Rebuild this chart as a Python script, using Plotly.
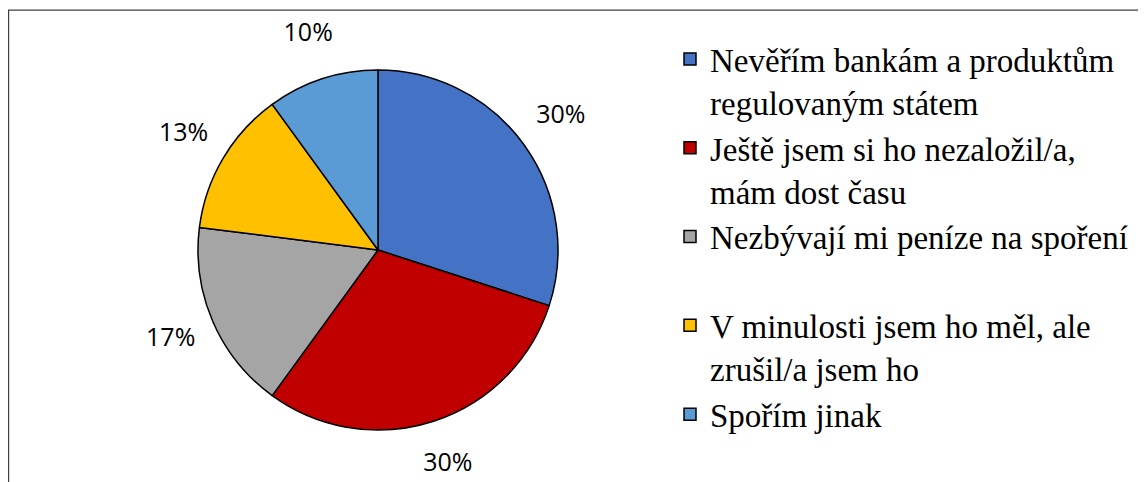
import plotly.graph_objects as go

categories = [
    "Nevěřím bankám a produktům<br>regulovaným státem",
    "Ještě jsem si ho nezaložil/a,<br>mám dost času",
    "Nezbývají mi peníze na spoření<br> ",
    "V minulosti jsem ho měl, ale<br>zrušil/a jsem ho",
    "Spořím jinak",
]
values = [30, 30, 17, 13, 10]

slice_colors = ["#4472C4", "#C00000", "#A5A5A5", "#FFC000", "#5B9BD5"]

# the page body has an 8px margin; work in figure coordinates
OFF = 8
W, H = 1146 - OFF, 482 - OFF
cx, cy, r = 378 - OFF, 250 - OFF, 180
R_LAB = 232  # radius of the (invisible) polar frame used for the % labels

SERIF = "Liberation Serif, Times New Roman, Tinos, DejaVu Serif, serif"
SANS = "Open Sans, Carlito, Calibri, Liberation Sans, sans-serif"

pie_dom = dict(x=[(cx - r) / W, (cx + r) / W], y=[1 - (cy + r) / H, 1 - (cy - r) / H])
pol_dom = dict(x=[(cx - R_LAB) / W, (cx + R_LAB) / W],
               y=[max(0.0, 1 - (cy + R_LAB) / H), 1 - (cy - R_LAB) / H])

# percentage labels placed outside each slice, at the slice's middle angle
total = sum(values)
mid_angles, pct_text, acc = [], [], 0.0
for v in values:
    mid_angles.append((acc + v / 2) / total * 360)
    pct_text.append(f"{round(v / total * 100)}%")
    acc += v
label_r = [1.255] * len(values)  # in units of the pie radius

fig = go.Figure()
fig.add_trace(go.Pie(
    labels=categories,
    values=values,
    sort=False,
    direction="clockwise",
    rotation=0,
    marker=dict(colors=slice_colors, line=dict(color="#000000", width=1.5)),
    textinfo="none",
    domain=pie_dom,
    automargin=False,
    hoverinfo="label+percent",
))
fig.add_trace(go.Scatterpolar(
    r=label_r, theta=mid_angles, mode="text", text=pct_text,
    textfont=dict(family=SANS, size=25, color="#000000"),
    cliponaxis=False, showlegend=False, hoverinfo="skip",
))

fig.update_layout(
    width=W, height=H,
    margin=dict(l=0, r=0, t=0, b=0),
    paper_bgcolor="#FFFFFF",
    plot_bgcolor="#FFFFFF",
    showlegend=True,
    polar=dict(
        domain=pol_dom, bgcolor="rgba(0,0,0,0)",
        radialaxis=dict(range=[0, R_LAB / r], visible=False, showgrid=False),
        angularaxis=dict(rotation=90, direction="clockwise", visible=False, showgrid=False),
    ),
    legend=dict(
        x=662 / W, y=1 - 23 / H, xanchor="left", yanchor="top",
        font=dict(family=SERIF, size=33, color="#000000"),
        valign="top",
        bgcolor="rgba(0,0,0,0)",
        traceorder="normal",
    ),
    shapes=[dict(
        type="rect", xref="paper", yref="paper",
        x0=0.6 / W, x1=1.02, y0=-0.02, y1=1 - 2.2 / H,
        line=dict(color="#404040", width=1.2), fillcolor="rgba(0,0,0,0)",
        layer="below",
    )],
)

fig.write_html("out.html")
